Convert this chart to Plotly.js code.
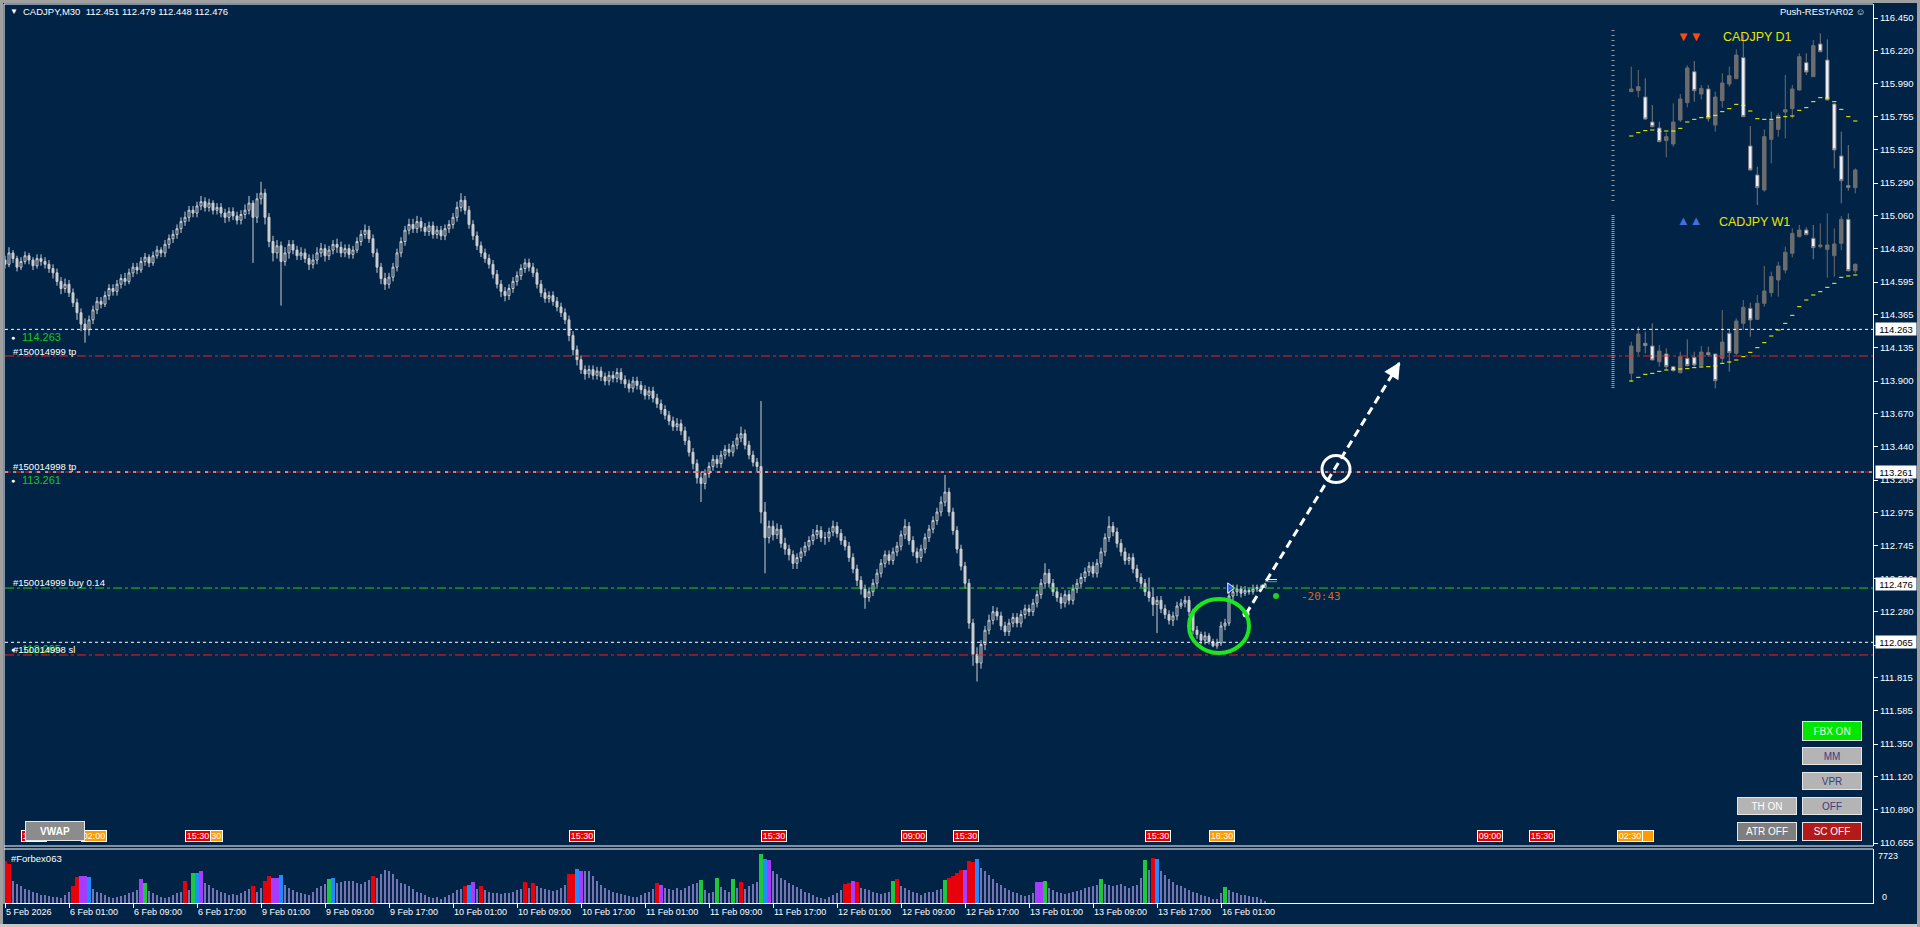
<!DOCTYPE html>
<html><head><meta charset="utf-8">
<script src="https://cdn.plot.ly/plotly-3.0.1.min.js"></script>
<style>html,body{margin:0;padding:0;background:#012346;overflow:hidden}#chart{width:1920px;height:927px}</style>
</head><body><div id="chart"></div><script>
// ---------- M30 candles (bar index 0 = 5 Feb 17:00) ----------
const barOpen=[
114.75,114.72,114.80,114.76,114.70,114.74,114.78,114.75,114.71,114.76,
114.74,114.72,114.69,114.66,114.60,114.55,114.58,114.52,114.45,114.38,
114.30,114.26,114.33,114.40,114.46,114.44,114.50,114.55,114.53,114.58,
114.62,114.60,114.66,114.70,114.68,114.74,114.77,114.73,114.78,114.82,
114.80,114.86,114.90,114.93,114.97,115.02,115.05,115.10,115.08,115.13,
115.16,115.12,115.15,115.10,115.12,115.08,115.05,115.09,115.06,115.03,
115.07,115.10,115.15,115.05,115.18,115.22,115.05,114.88,114.80,114.85,
114.74,114.80,114.86,114.82,114.78,114.80,114.76,114.72,114.75,114.80,
114.83,114.78,114.82,114.86,114.84,114.80,114.83,114.79,114.82,114.88,
114.93,114.96,114.90,114.80,114.70,114.62,114.58,114.63,114.70,114.80,
114.88,114.96,115.00,114.97,115.02,114.98,114.95,114.99,114.93,114.96,
114.92,114.97,115.00,115.05,115.12,115.17,115.10,115.00,114.92,114.85,
114.80,114.76,114.72,114.65,114.58,114.53,114.50,114.55,114.60,114.64,
114.69,114.73,114.70,114.66,114.58,114.52,114.48,114.50,114.46,114.42,
114.38,114.33,114.22,114.12,114.05,113.98,113.95,113.98,113.94,113.97,
113.93,113.90,113.94,113.92,113.96,113.91,113.88,113.85,113.90,113.87,
113.84,113.80,113.83,113.78,113.74,113.70,113.66,113.62,113.58,113.60,
113.55,113.48,113.40,113.32,113.22,113.18,113.25,113.30,113.35,113.32,
113.38,113.42,113.40,113.45,113.50,113.53,113.45,113.38,113.33,113.30,
112.98,112.80,112.88,112.82,112.86,112.76,112.72,112.68,112.62,112.66,
112.70,112.74,112.78,112.82,112.85,112.80,112.80,112.84,112.88,112.83,
112.78,112.74,112.66,112.58,112.50,112.44,112.38,112.42,112.48,112.55,
112.62,112.68,112.64,112.70,112.74,112.82,112.88,112.78,112.70,112.66,
112.72,112.80,112.86,112.92,112.98,113.05,113.12,112.98,112.85,112.72,
112.60,112.48,112.20,111.98,111.92,112.05,112.15,112.22,112.28,112.25,
112.18,112.14,112.20,112.24,112.20,112.26,112.30,112.28,112.34,112.40,
112.48,112.55,112.48,112.42,112.38,112.34,112.40,112.36,112.44,112.48,
112.52,112.56,112.60,112.55,112.62,112.70,112.80,112.88,112.84,112.76,
112.70,112.64,112.66,112.58,112.52,112.48,112.42,112.38,112.33,112.36,
112.30,112.26,112.22,112.25,112.32,112.34,112.36,112.28,112.15,112.12,
112.08,112.11,112.07,112.04,112.06,112.18,112.20,112.39,112.42,112.44,
112.41,112.43,112.42,112.44,112.45,112.451];
const barHigh=[
114.78,114.84,114.82,114.78,114.77,114.81,114.80,114.77,114.79,114.79,
114.77,114.75,114.72,114.69,114.63,114.62,114.61,114.55,114.48,114.41,
114.34,114.36,114.43,114.49,114.49,114.53,114.58,114.58,114.61,114.65,
114.66,114.69,114.73,114.73,114.77,114.80,114.79,114.81,114.85,114.84,
114.89,114.93,114.96,115.00,115.05,115.09,115.13,115.13,115.16,115.20,
115.19,115.18,115.17,115.15,115.15,115.11,115.12,115.12,115.09,115.10,
115.14,115.20,115.17,115.22,115.30,115.25,115.08,114.92,114.89,114.88,
114.84,114.89,114.89,114.85,114.84,114.83,114.79,114.79,114.84,114.87,
114.86,114.85,114.89,114.90,114.88,114.86,114.86,114.85,114.91,114.96,
115.00,114.99,114.93,114.83,114.73,114.66,114.66,114.73,114.83,114.91,
114.99,115.04,115.04,115.06,115.05,115.01,115.02,115.02,114.99,114.99,
115.00,115.03,115.08,115.16,115.22,115.20,115.13,115.03,114.95,114.88,
114.83,114.79,114.75,114.68,114.61,114.56,114.58,114.63,114.67,114.72,
114.76,114.76,114.73,114.69,114.61,114.55,114.53,114.53,114.49,114.45,
114.41,114.36,114.25,114.15,114.08,114.01,114.01,114.01,114.00,114.00,
113.96,113.97,113.97,113.99,113.99,113.94,113.91,113.93,113.93,113.90,
113.87,113.86,113.86,113.81,113.77,113.73,113.69,113.65,113.64,113.63,
113.58,113.51,113.43,113.35,113.26,113.28,113.33,113.38,113.38,113.41,
113.45,113.46,113.48,113.53,113.58,113.56,113.48,113.41,113.36,113.76,
113.05,112.92,112.92,112.90,112.89,112.80,112.75,112.71,112.69,112.73,
112.77,112.81,112.86,112.89,112.88,112.84,112.87,112.92,112.91,112.86,
112.81,112.77,112.69,112.61,112.53,112.47,112.45,112.51,112.58,112.65,
112.71,112.71,112.73,112.77,112.85,112.93,112.91,112.81,112.73,112.75,
112.83,112.89,112.95,113.01,113.09,113.24,113.15,113.01,112.88,112.75,
112.63,112.51,112.23,112.03,112.08,112.18,112.26,112.32,112.31,112.28,
112.21,112.23,112.27,112.27,112.29,112.33,112.33,112.37,112.43,112.51,
112.62,112.58,112.51,112.45,112.41,112.43,112.43,112.47,112.51,112.55,
112.59,112.63,112.63,112.65,112.73,112.83,112.95,112.91,112.87,112.79,
112.73,112.69,112.69,112.61,112.55,112.51,112.52,112.45,112.39,112.39,
112.33,112.29,112.28,112.35,112.37,112.39,112.39,112.30,112.18,112.14,
112.14,112.13,112.09,112.09,112.21,112.23,112.42,112.47,112.47,112.46,
112.46,112.45,112.47,112.47,112.47,112.479];
const barLow=[
114.69,114.70,114.73,114.67,114.68,114.72,114.72,114.68,114.69,114.71,
114.69,114.66,114.62,114.57,114.51,114.52,114.49,114.42,114.33,114.25,
114.17,114.22,114.30,114.37,114.41,114.42,114.47,114.50,114.50,114.55,
114.57,114.58,114.63,114.65,114.66,114.71,114.70,114.71,114.76,114.77,
114.77,114.83,114.87,114.90,114.94,114.99,115.02,115.05,115.05,115.10,
115.09,115.09,115.07,115.07,115.05,115.01,115.02,115.03,115.00,115.00,
115.04,115.07,114.73,115.01,115.14,115.00,114.84,114.74,114.76,114.43,
114.71,114.76,114.79,114.75,114.75,114.73,114.68,114.69,114.72,114.77,
114.74,114.75,114.79,114.80,114.77,114.77,114.76,114.76,114.80,114.85,
114.90,114.87,114.77,114.66,114.58,114.54,114.55,114.60,114.67,114.77,
114.85,114.93,114.94,114.94,114.95,114.92,114.92,114.90,114.90,114.89,
114.89,114.94,114.97,115.02,115.09,115.07,114.97,114.89,114.82,114.77,
114.73,114.69,114.62,114.55,114.49,114.46,114.47,114.52,114.57,114.61,
114.66,114.67,114.63,114.55,114.49,114.45,114.45,114.43,114.39,114.35,
114.30,114.18,114.08,114.01,113.95,113.91,113.92,113.91,113.91,113.90,
113.87,113.87,113.89,113.89,113.88,113.85,113.82,113.82,113.84,113.81,
113.77,113.77,113.75,113.71,113.67,113.63,113.59,113.55,113.55,113.52,
113.45,113.37,113.28,113.18,113.05,113.14,113.22,113.27,113.29,113.29,
113.35,113.37,113.37,113.42,113.47,113.42,113.35,113.30,113.26,112.90,
112.55,112.76,112.78,112.79,112.73,112.68,112.64,112.58,112.58,112.63,
112.67,112.71,112.75,112.79,112.77,112.75,112.77,112.81,112.80,112.75,
112.71,112.63,112.55,112.46,112.40,112.30,112.35,112.39,112.45,112.52,
112.59,112.61,112.61,112.67,112.71,112.79,112.75,112.67,112.62,112.63,
112.69,112.77,112.83,112.89,112.95,113.02,112.95,112.82,112.69,112.57,
112.44,112.16,111.90,111.79,111.88,112.01,112.12,112.19,112.22,112.15,
112.11,112.11,112.17,112.17,112.17,112.23,112.25,112.25,112.31,112.37,
112.45,112.45,112.39,112.35,112.30,112.31,112.33,112.33,112.41,112.45,
112.49,112.53,112.52,112.52,112.59,112.67,112.77,112.81,112.73,112.67,
112.61,112.61,112.55,112.49,112.45,112.39,112.35,112.25,112.13,112.27,
112.23,112.19,112.18,112.22,112.30,112.31,112.25,112.12,112.09,112.05,
112.05,112.05,112.03,112.02,112.04,112.15,112.18,112.36,112.39,112.38,
112.39,112.40,112.40,112.42,112.43,112.448];
const barClose=[
114.72,114.80,114.76,114.70,114.74,114.78,114.75,114.71,114.76,114.74,
114.72,114.69,114.66,114.60,114.55,114.58,114.52,114.45,114.38,114.30,
114.26,114.33,114.40,114.46,114.44,114.50,114.55,114.53,114.58,114.62,
114.60,114.66,114.70,114.68,114.74,114.77,114.73,114.78,114.82,114.80,
114.86,114.90,114.93,114.97,115.02,115.05,115.10,115.08,115.13,115.16,
115.12,115.15,115.10,115.12,115.08,115.05,115.09,115.06,115.03,115.07,
115.10,115.15,115.05,115.18,115.22,115.05,114.88,114.80,114.85,114.74,
114.80,114.86,114.82,114.78,114.80,114.76,114.72,114.75,114.80,114.83,
114.78,114.82,114.86,114.84,114.80,114.83,114.79,114.82,114.88,114.93,
114.96,114.90,114.80,114.70,114.62,114.58,114.63,114.70,114.80,114.88,
114.96,115.00,114.97,115.02,114.98,114.95,114.99,114.93,114.96,114.92,
114.97,115.00,115.05,115.12,115.17,115.10,115.00,114.92,114.85,114.80,
114.76,114.72,114.65,114.58,114.53,114.50,114.55,114.60,114.64,114.69,
114.73,114.70,114.66,114.58,114.52,114.48,114.50,114.46,114.42,114.38,
114.33,114.22,114.12,114.05,113.98,113.95,113.98,113.94,113.97,113.93,
113.90,113.94,113.92,113.96,113.91,113.88,113.85,113.90,113.87,113.84,
113.80,113.83,113.78,113.74,113.70,113.66,113.62,113.58,113.60,113.55,
113.48,113.40,113.32,113.22,113.18,113.25,113.30,113.35,113.32,113.38,
113.42,113.40,113.45,113.50,113.53,113.45,113.38,113.33,113.30,112.98,
112.80,112.88,112.82,112.86,112.76,112.72,112.68,112.62,112.66,112.70,
112.74,112.78,112.82,112.85,112.80,112.80,112.84,112.88,112.83,112.78,
112.74,112.66,112.58,112.50,112.44,112.38,112.42,112.48,112.55,112.62,
112.68,112.64,112.70,112.74,112.82,112.88,112.78,112.70,112.66,112.72,
112.80,112.86,112.92,112.98,113.05,113.12,112.98,112.85,112.72,112.60,
112.48,112.20,111.98,111.92,112.05,112.15,112.22,112.28,112.25,112.18,
112.14,112.20,112.24,112.20,112.26,112.30,112.28,112.34,112.40,112.48,
112.55,112.48,112.42,112.38,112.34,112.40,112.36,112.44,112.48,112.52,
112.56,112.60,112.55,112.62,112.70,112.80,112.88,112.84,112.76,112.70,
112.64,112.66,112.58,112.52,112.48,112.42,112.38,112.33,112.36,112.30,
112.26,112.22,112.25,112.32,112.34,112.36,112.28,112.15,112.12,112.08,
112.11,112.07,112.04,112.06,112.18,112.20,112.39,112.42,112.44,112.41,
112.43,112.42,112.44,112.45,112.451,112.476];

// ---------- volume (#Forbex063) ----------
const volume=[
6560,6200,3500,3000,2600,2200,2000,1800,1500,1200,
1300,1100,1000,900,800,1200,1800,2600,4100,4300,
4300,4100,2200,1800,1500,1200,1000,800,900,1100,
1300,1600,1800,2000,3770,3100,1900,1500,1200,1000,
800,900,1200,1500,1800,3440,2000,4760,4760,5080,
3200,2800,2400,2000,1800,1500,1300,1400,1200,1600,
1900,2200,2620,1800,2400,3440,4260,3940,3940,4430,
2800,2400,2000,1800,1600,1400,1200,1800,2400,2700,
3000,3770,3900,3200,3300,3400,3500,3400,3200,3000,
3300,3600,4260,4000,4600,5250,5000,4500,3800,3200,
3000,2600,2200,1800,1500,1200,1000,800,1000,700,
900,1200,1600,2000,2200,2620,2900,3280,2200,2620,
2000,1700,1500,1600,1400,1500,1600,1800,2000,2200,
3280,2400,3100,2600,2400,2200,2000,1900,2100,2400,
2800,4590,4590,5410,5080,5080,5000,4200,3500,2800,
2400,2100,1800,1600,1400,1300,1100,1000,900,1200,
1500,1800,2200,3110,2800,2400,2200,2000,2300,2100,
2400,2600,3000,3200,3600,2000,1600,1800,3940,2500,
2000,1800,3770,2400,3280,2200,2600,3000,3300,7723,
6890,6720,5000,4500,4000,3600,3200,2800,2500,2200,
1800,1500,1200,1000,800,600,900,1200,1500,2000,
2950,3100,3440,3300,2400,2200,2000,1800,1600,1400,
1500,1700,3440,3770,2600,2400,2000,1800,1500,1300,
1500,1800,1700,2000,2200,3600,3940,4260,4800,5250,
5250,6560,6400,6890,5500,5000,4400,3800,3200,2800,
2400,2000,1800,1500,1300,1100,1300,1600,3280,3280,
3440,2400,2000,1800,1600,1400,1500,1700,1900,2100,
2300,2500,2700,2900,3770,3000,2800,2600,2800,3000,
2700,2400,2600,2900,4000,6720,5200,7050,6890,5000,
4400,3800,3300,2900,2600,2300,2000,1800,1500,1300,
1100,900,700,600,1500,2460,2000,1700,1500,1300,
1200,1100,1000,900,700,300];
const volRedBars=[0,1,17,18,45,62,65,66,92,115,119,130,132,141,142,163,184,210,211,213,223,236,237,238,239,241,242,287];
const volPurpleBars=[19,20,34,49,67,68,117,144,164,191,212,240,258,259];
const volBlueBars=[21,48,69,82,116,143,190,243,288];
const volGreenBars=[35,47,81,174,178,182,189,222,235,260,274,285,305];
const volumeMaxLabel='7723';

// ---------- time axis ----------
const timeTickIdx=[0,16,32,48,64,80,96,112,128,144,160,176,192,208,224,240,256,272,288,304];
const timeTickText=['5 Feb 2026','6 Feb 01:00','6 Feb 09:00','6 Feb 17:00','9 Feb 01:00','9 Feb 09:00','9 Feb 17:00',
'10 Feb 01:00','10 Feb 09:00','10 Feb 17:00','11 Feb 01:00','11 Feb 09:00','11 Feb 17:00','12 Feb 01:00',
'12 Feb 09:00','12 Feb 17:00','13 Feb 01:00','13 Feb 09:00','13 Feb 17:00','16 Feb 01:00'];

// ---------- price axis ----------
const priceTickVals=[116.450,116.220,115.990,115.755,115.525,115.290,115.060,114.830,114.595,114.365,114.135,113.900,113.670,113.440,113.205,112.975,112.745,112.510,112.280,112.045,111.815,111.585,111.350,111.120,110.890,110.655];
const priceTickText=['116.450','116.220','115.990','115.755','115.525','115.290','115.060','114.830','114.595','114.365','114.135','113.900','113.670','113.440','113.205','112.975','112.745','112.510','112.280','112.045','111.815','111.585','111.350','111.120','110.890','110.655'];

// ---------- order / level lines ----------
const tp1Level=114.263, tp1Line=114.076;
const tp2Level=113.261;
const buyLevel=112.446, bidLevel=112.476;
const slLevel=112.065, slLine=111.976;

// ---------- session markers (hidden = box mostly covered by the next one) ----------
const sessionIdx=[4,48,19,45,141,189,224,237,285,301,368,381,405.75,403];
const sessionText=['15:30','18:30','02:00','15:30','15:30','15:30','09:00','15:30','15:30','18:30','09:00','15:30','','02:30'];
const sessionKind=['r','o','o','r','r','r','r','r','r','o','r','r','o','o'];

// ---------- drawn objects ----------
const arrowStart=[310.25,112.264], arrowEnd=[348.75,114.034];
const targetCircle=[332.75,113.282];
const greenEllipse=[303.5,112.18];
const tradeArrow=[306.25,112.446];
const timerDot=[317.75,112.39];

// ---------- D1 inset ----------
const d1Open=[114.75,114.78,114.59,113.84,113.66,113.28,113.18,113.90,114.42,115.35,114.68,114.83,113.75,114.48,114.98,115.14,115.77,113.12,112.25,111.80,113.32,113.62,114.14,114.24,114.80,115.62,115.20,116.18,115.70,114.38,112.82,111.93,111.87];
const d1High=[115.50,115.40,115.15,114.35,113.85,113.52,114.40,114.68,115.54,115.67,114.95,114.95,114.75,115.30,115.50,116.02,116.45,113.72,112.50,113.62,114.15,114.10,115.25,114.95,115.90,115.90,116.30,116.50,116.32,114.40,113.55,113.15,112.45];
const d1Low=[114.75,114.58,113.90,113.68,113.25,112.78,113.10,113.84,114.28,114.45,114.52,113.85,113.55,114.27,114.90,115.13,114.00,112.40,111.35,111.75,112.60,113.40,113.35,113.95,114.78,115.25,115.20,115.95,114.50,112.45,111.40,111.78,111.70];
const d1Close=[114.83,114.90,113.93,113.70,113.25,113.40,113.84,114.53,115.46,114.78,114.85,113.94,114.59,115.01,115.23,115.85,114.00,112.40,111.87,113.40,113.88,114.03,114.21,114.83,115.80,115.34,116.13,115.95,114.50,113.00,112.08,111.88,112.40];
const d1Trend=[113.42,113.52,113.58,113.60,113.56,113.57,113.57,113.65,113.84,113.92,113.97,114.00,114.04,114.15,114.24,114.37,114.34,114.17,113.94,113.92,113.92,113.97,114.00,114.02,114.19,114.27,114.45,114.57,114.56,114.45,114.22,114.00,113.87];

// ---------- W1 inset ----------
const w1Open=[111.40,112.05,112.30,112.22,111.75,111.98,111.60,111.42,111.85,111.88,111.63,112.02,111.98,111.85,112.60,112.00,112.90,113.35,113.02,113.50,113.82,114.20,114.50,115.00,115.50,115.70,115.45,115.20,115.12,114.93,115.30,116.02,114.48];
const w1High=[112.35,112.80,112.65,112.90,112.25,112.15,111.60,112.05,112.42,112.05,112.22,112.20,111.98,113.30,112.70,113.05,113.60,113.52,113.75,114.62,114.45,114.75,115.20,115.75,115.85,115.78,115.85,115.90,116.20,115.75,116.12,116.20,114.70];
const w1Low=[111.15,111.95,112.00,111.80,111.60,111.50,111.45,111.40,111.60,111.60,111.60,111.90,110.95,111.70,111.45,111.95,112.70,112.50,113.00,113.40,113.70,113.70,114.40,114.88,115.48,115.55,114.82,115.15,114.27,114.30,115.10,114.45,114.40];
const w1Close=[112.22,112.58,112.23,111.80,112.07,111.60,111.48,111.90,111.63,111.65,112.04,111.96,111.18,112.34,112.02,112.97,113.38,113.00,113.50,113.87,114.30,114.62,115.03,115.60,115.70,115.56,115.17,115.25,115.25,115.28,116.02,114.48,114.67];
const w1Trend=[111.17,111.28,111.37,111.40,111.46,111.50,111.52,111.53,111.54,111.57,111.59,111.60,111.62,111.70,111.74,111.80,111.90,112.03,112.17,112.32,112.52,112.70,112.90,113.14,113.40,113.60,113.75,113.85,113.98,114.10,114.28,114.32,114.35];

// ---------- layout helpers (pixel -> paper) ----------
const PL=5, PR=1873, PT=4, PB=903;
const px=X=>(X-PL)/(PR-PL);
const py=Y=>(PB-Y)/(PB-PT);
const NAVY='#012346';
const FONT='Liberation Sans, Arial, DejaVu Sans, sans-serif';
const idx=barClose.map((_,i)=>i);

const volColor=volume.map((_,i)=>volRedBars.includes(i)?'#e8000b':volPurpleBars.includes(i)?'#a53cff':volBlueBars.includes(i)?'#1e8cff':volGreenBars.includes(i)?'#1ec83c':'#7474b4');
const volWidth=volume.map((_,i)=>(volRedBars.includes(i)||volPurpleBars.includes(i)||volBlueBars.includes(i)||volGreenBars.includes(i))?0.85:0.3);

const insetIdx=d1Close.map((_,i)=>i);

const traces=[
 {type:'candlestick',x:idx,open:barOpen,high:barHigh,low:barLow,close:barClose,xaxis:'x',yaxis:'y',
  increasing:{line:{color:'#cfcfcf',width:1},fillcolor:NAVY},
  decreasing:{line:{color:'#cfcfcf',width:1},fillcolor:'#cfcfcf'},whiskerwidth:0,hoverinfo:'skip'},
 {type:'bar',x:idx,y:volume,xaxis:'x2',yaxis:'y2',marker:{color:volColor,line:{width:0}},width:volWidth,hoverinfo:'skip'},
 {type:'scatter',mode:'lines',x:[arrowStart[0],arrowEnd[0]],y:[arrowStart[1],arrowEnd[1]],xaxis:'x',yaxis:'y',
  line:{color:'#ffffff',width:3,dash:'8px,5px'},hoverinfo:'skip'},
 {type:'scatter',mode:'markers',x:[arrowStart[0]],y:[arrowStart[1]],xaxis:'x',yaxis:'y',marker:{color:'#fff',size:7},hoverinfo:'skip'},
 {type:'scatter',mode:'markers',x:[tradeArrow[0]],y:[tradeArrow[1]],xaxis:'x',yaxis:'y',marker:{symbol:'triangle-right',color:'#2040ff',size:9,line:{color:'#fff',width:1}},hoverinfo:'skip'},
 {type:'scatter',mode:'markers',x:[timerDot[0]],y:[timerDot[1]],xaxis:'x',yaxis:'y',marker:{color:'#1ed21e',size:6},hoverinfo:'skip'},
 {type:'candlestick',x:insetIdx,open:d1Open,high:d1High,low:d1Low,close:d1Close,xaxis:'x3',yaxis:'y3',
  increasing:{line:{color:'#6c6c6c',width:1},fillcolor:'#6c6c6c'},
  decreasing:{line:{color:'#7a7a7a',width:1},fillcolor:'#eef0ff'},whiskerwidth:0,hoverinfo:'skip'},
 {type:'scatter',mode:'markers',x:insetIdx,y:d1Trend,xaxis:'x3',yaxis:'y3',marker:{symbol:'line-ew',size:3,line:{color:'#ffff00',width:1}},hoverinfo:'skip'},
 {type:'candlestick',x:insetIdx,open:w1Open,high:w1High,low:w1Low,close:w1Close,xaxis:'x4',yaxis:'y4',
  increasing:{line:{color:'#6c6c6c',width:1},fillcolor:'#6c6c6c'},
  decreasing:{line:{color:'#7a7a7a',width:1},fillcolor:'#eef0ff'},whiskerwidth:0,hoverinfo:'skip'},
 {type:'scatter',mode:'markers',x:insetIdx,y:w1Trend,xaxis:'x4',yaxis:'y4',marker:{symbol:'line-ew',size:3,line:{color:'#ffff00',width:1}},hoverinfo:'skip'}
];

const hline=(y,color,dash)=>({type:'line',xref:'paper',x0:0,x1:1,yref:'y',y0:y,y1:y,line:{color:color,width:1,dash:dash},layer:'above'});
const pline=(x0,y0,x1,y1,color,w,dash)=>({type:'line',xref:'paper',yref:'paper',x0:px(x0),x1:px(x1),y0:py(y0),y1:py(y1),line:{color:color,width:w||1,dash:dash||'solid'}});
const prect=(x0,y0,x1,y1,color)=>({type:'rect',xref:'paper',yref:'paper',x0:px(x0),x1:px(x1),y0:py(y0),y1:py(y1),fillcolor:color,line:{width:0}});

const shapes=[
 prect(0,0,1920,3,'#a0a0a0'), prect(0,0,3,927,'#a0a0a0'), prect(0,924,1920,927,'#c8c8c8'), prect(1917,0,1920,927,'#a0a0a0'),
 pline(4,4,1873,4,'#ffffff'), pline(4,4,4,904,'#ffffff'),
 pline(4,846,1873,846,'#ffffff'), pline(4,849,1873,849,'#ffffff'),
 hline(tp1Level,'#ffffff','3px,3px'), hline(tp1Line,'#ff1a1a','dashdot'),
 hline(tp2Level,'#ff1a1a','6px,4px'), hline(tp2Level,'#ffffff','3px,5px'),
 hline(buyLevel,'#1ed21e','dashdot'),
 hline(slLevel,'#ffffff','3px,3px'), hline(slLine,'#ff1a1a','dashdot'),
 {type:'circle',xref:'x',yref:'y',x0:greenEllipse[0]-7.5,x1:greenEllipse[0]+7.5,y0:greenEllipse[1]-0.19,y1:greenEllipse[1]+0.19,line:{color:'#1ee61e',width:4}},
 {type:'circle',xref:'x',yref:'y',x0:targetCircle[0]-3.5,x1:targetCircle[0]+3.5,y0:targetCircle[1]-0.095,y1:targetCircle[1]+0.095,line:{color:'#ffffff',width:3}},
 {type:'line',xref:'x',yref:'y',x0:315,x1:318,y0:bidLevel+0.03,y1:bidLevel+0.03,line:{color:'#ffffff',width:1}},
 {type:'line',xref:'x',yref:'y',x0:315,x1:318,y0:bidLevel+0.015,y1:bidLevel+0.015,line:{color:'#1ed21e',width:1}},
 pline(1613,30,1613,202,'#9a9a9a',3,'1px,4px'),
 pline(1613,215,1613,388,'#9a9a9a',3,'1px,1px')
];

const ann=[];
const T=(x,y,text,color,size,anchor,extra)=>ann.push(Object.assign({xref:'paper',yref:'paper',x:px(x),y:py(y),text:text,showarrow:false,xanchor:anchor||'left',yanchor:'middle',font:{family:FONT,color:color,size:size}},extra||{}));
T(8,12,'▼','#ffffff',8,'left');
T(21,12,'CADJPY,M30  112.451 112.479 112.448 112.476','#ffffff',9.5,'left');
T(1868,12,'Push-RESTAR02 ☺','#ffffff',9.5,'right');
T(9,337,'●','#ffffff',7,'left'); T(20,337,'114.263','#14c814',11,'left');
T(11,351,'#150014999 tp','#ffffff',9.5,'left');
T(11,466,'#150014998 tp','#ffffff',9.5,'left');
T(9,480,'●','#ffffff',7,'left'); T(20,480,'113.261','#14c814',11,'left');
T(11,582,'#150014999 buy 0.14','#ffffff',9.5,'left');
T(20,649,'112.065','#14c814',11,'left');
T(9,649,'●','#ffffff',7,'left');
T(11,649,'#150014998 sl','#ffffff',9.5,'left');
ann.push({xref:'x',yref:'y',x:323.5,y:112.39,text:'-20:43',showarrow:false,xanchor:'left',yanchor:'middle',font:{family:'DejaVu Sans Mono, Liberation Mono, monospace',color:'#d2691e',size:11}});
ann.push({xref:'x',yref:'y',axref:'x',ayref:'y',x:arrowEnd[0],y:arrowEnd[1],ax:arrowEnd[0]-2.2,ay:arrowEnd[1]-0.101,text:'',showarrow:true,arrowhead:2,arrowsize:1.1,arrowwidth:3,arrowcolor:'#ffffff'});
[tp1Level,tp2Level,bidLevel,slLevel].forEach(v=>ann.push({xref:'paper',yref:'y',x:px(1875),y:v,text:v.toFixed(3),showarrow:false,xanchor:'left',yanchor:'middle',bgcolor:'#ffffff',borderpad:0,width:40,height:12,font:{family:FONT,color:'#000000',size:9.5}}));
T(1876,856,volumeMaxLabel,'#ffffff',9,'left');
T(1880,897,'0','#ffffff',9,'left');
T(9,858,'#Forbex063','#ffffff',9.5,'left');
sessionIdx.forEach((s,i)=>ann.push({xref:'x',yref:'paper',x:s,y:py(836),text:sessionText[i]||' ',showarrow:false,xanchor:'left',yanchor:'middle',
  bgcolor:sessionKind[i]==='r'?'#e40000':'#ff9a00',bordercolor:'#ffffff',borderwidth:1,borderpad:0,width:24,height:10,font:{family:FONT,color:'#ffffff',size:9}}));
const B=(cx,cy,w,h,text,bg,fg,bold)=>ann.push({xref:'paper',yref:'paper',x:px(cx),y:py(cy),text:bold?'<b>'+text+'</b>':text,showarrow:false,xanchor:'center',yanchor:'middle',
  bgcolor:bg,bordercolor:'#e6e6e6',borderwidth:1,borderpad:0,width:w,height:h,font:{family:FONT,color:fg,size:10}});
B(55,831,58,18,'VWAP','#8c8c8c','#ffffff',true);
B(1832,731,58,18,'FBX ON','#00e600','#f0fff0');
B(1832,756,58,16,'MM','#b4b4b4','#3c3c82');
B(1832,781,58,16,'VPR','#b4b4b4','#3c3c82');
B(1832,806,58,16,'OFF','#b4b4b4','#3c3c82');
B(1767,806,58,16,'TH ON','#b4b4b4','#ffffff');
B(1767,831,58,17,'ATR OFF','#7e7e7e','#ffffff');
B(1832,831,58,17,'SC OFF','#b41a1a','#ffffff');
T(1690,36,'▼▼','#ff4a10',13,'center');
T(1721,37,'CADJPY D1','#e6e600',12.5,'left');
T(1690,220,'▲▲','#4070e0',13,'center');
T(1717,222,'CADJPY W1','#e6e600',12.5,'left');

const axisFont={family:FONT,color:'#ffffff',size:9.5};
const layout={
 width:1920,height:927,paper_bgcolor:NAVY,plot_bgcolor:NAVY,showlegend:false,hovermode:false,dragmode:false,
 margin:{l:PL,r:1920-PR,t:PT,b:927-PB,pad:0},
 xaxis:{domain:[0,1],range:[0,467],anchor:'y',showticklabels:false,ticks:'',showgrid:false,zeroline:false,showline:false,rangeslider:{visible:false},fixedrange:true},
 yaxis:{domain:[py(846),1],range:[110.6343,116.5483],side:'right',anchor:'x',tickvals:priceTickVals,ticktext:priceTickText,ticks:'outside',ticklen:4,tickcolor:'#ffffff',
   tickfont:axisFont,showgrid:false,zeroline:false,showline:true,linecolor:'#ffffff',linewidth:1,fixedrange:true},
 xaxis2:{domain:[0,1],range:[0,467],anchor:'y2',tickvals:timeTickIdx,ticktext:timeTickText,ticks:'outside',ticklen:4,tickcolor:'#ffffff',ticklabelposition:'outside right',
   tickfont:{family:FONT,color:'#ffffff',size:9},showgrid:false,zeroline:false,showline:true,linecolor:'#ffffff',linewidth:1,rangeslider:{visible:false},fixedrange:true},
 yaxis2:{domain:[0,py(849)],range:[0,8500],side:'right',anchor:'x2',showticklabels:false,ticks:'',showgrid:false,zeroline:false,showline:true,linecolor:'#ffffff',linewidth:1,fixedrange:true},
 xaxis3:{domain:[px(1610),px(1866)],range:[-3.04,33.53],anchor:'y3',visible:false,rangeslider:{visible:false}},
 yaxis3:{domain:[py(205),py(30)],range:[111.35,116.6],anchor:'x3',visible:false},
 xaxis4:{domain:[px(1610),px(1866)],range:[-3.04,33.53],anchor:'y4',visible:false,rangeslider:{visible:false}},
 yaxis4:{domain:[py(392),py(212)],range:[110.84,116.24],anchor:'x4',visible:false},
 shapes:shapes,annotations:ann,bargap:0
};
Plotly.newPlot('chart',traces,layout,{staticPlot:true,displayModeBar:false});
</script></body></html>
